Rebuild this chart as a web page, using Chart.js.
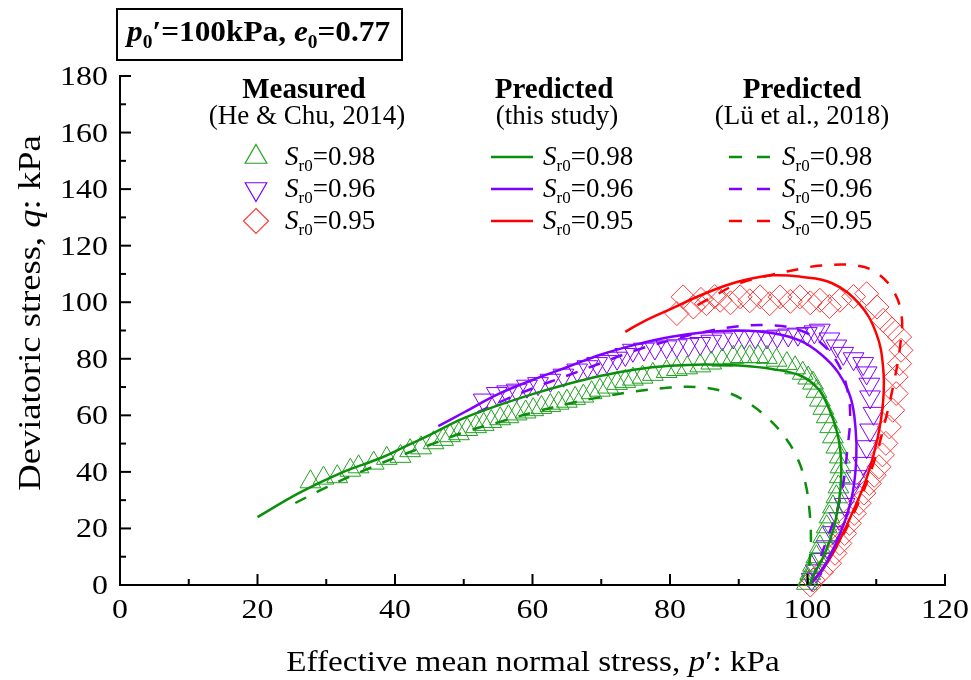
<!DOCTYPE html>
<html>
<head>
<meta charset="utf-8">
<script src="https://cdn.jsdelivr.net/npm/chart.js@4"></script>
<style>
  body { margin: 0; background: #fff; }
  #wrap { width: 971px; height: 680px; }
</style>
</head>
<body>
<div id="wrap"><canvas id="chart" width="971" height="680"></canvas></div>
<script>
// ---- 축 눈금 ----
const xTicks = [0, 20, 40, 60, 80, 100, 120];
const yTicks = [0, 20, 40, 60, 80, 100, 120, 140, 160, 180];

// ---- 측정값 (He & Chu, 2014) ----
const meas98P = [27.7, 29.6, 31.6, 33.5, 34.7, 36.9, 38.8, 40.8, 42.2, 43.8, 45.6, 47, 48, 49.3, 50.5, 51.8, 52.9, 54, 55.3, 56.5, 57.7, 59, 60.1, 61.3, 62.6, 63.8, 65, 66.2, 67.4, 68.6, 69.8, 71, 72.3, 73.5, 74.6, 76, 77.5, 79.5, 81, 82.5, 84.4, 86, 87.6, 89.2, 90.4, 91.6, 92.8, 94.1, 95.5, 97, 98.2, 99.3, 100.1, 100.8, 101.3, 101.8, 102.3, 102.8, 103.3, 103.7, 104.2, 104.7, 104.8, 104.7, 104.5, 104.2, 103.7, 103.2, 102.8, 102.3, 101.8, 101.3, 100.8, 100.4, 100.1, 99.9];
const meas98Q = [36.5, 37.8, 38.3, 40.6, 41.8, 43.1, 44.8, 45.5, 47.5, 48.5, 50.3, 51.5, 52.8, 53.5, 55, 56, 56.8, 57.8, 58.8, 59.5, 60.5, 61.2, 62, 62.8, 63.5, 64.3, 65, 66, 66.8, 68, 68.9, 70, 71.3, 72, 72.8, 73.5, 74.5, 75.5, 76.2, 76.8, 77.5, 78.5, 79.5, 80.5, 80.8, 80.7, 80.8, 80.5, 79.5, 78.3, 76.8, 74.9, 73.2, 71.4, 68.5, 65.4, 62.5, 59.5, 56, 52.4, 48.8, 45.3, 41.8, 38.3, 34.7, 31.2, 27.6, 24.1, 20.6, 17.1, 13.5, 10, 7, 4.1, 2, 0.6];

const meas96P = [52.9, 54.8, 56.3, 57.7, 59.2, 60.8, 62.6, 64.5, 66.5, 68, 69.4, 70.8, 72.3, 73.5, 74.6, 76.2, 77.8, 79.5, 81, 82.7, 84.4, 86, 87.6, 89.2, 90.8, 92.4, 94.1, 95.6, 97.2, 98.6, 99.9, 101, 101.8, 103.2, 104.2, 105.2, 106.7, 108.1, 108.6, 109, 109.1, 109.6, 109.1, 108.6, 108.1, 107.1, 106.2, 105.4, 104.6, 103.7, 102.8, 102, 101.2, 100.6];
const meas96Q = [65.4, 67.7, 68.3, 68.9, 70.3, 71.2, 72.4, 74.2, 76, 77.2, 78.3, 79, 80.2, 81.5, 83, 83.4, 83.8, 84.2, 84.6, 85, 85.4, 86.2, 87, 87.7, 87.7, 87.7, 87.7, 88, 88.4, 88.7, 88.9, 89.5, 90.1, 87, 84.5, 81.9, 80, 78.3, 75, 71, 66.5, 60.7, 54.8, 48.9, 43, 38.3, 33.6, 28.5, 23.5, 18.5, 13.5, 9, 5, 2];

const meas95P = [81, 81.9, 83.4, 84.5, 85.3, 86.5, 87.3, 88.8, 90.2, 91.6, 93.1, 94.5, 96, 97.5, 98.9, 100.4, 101.8, 103.2, 104.7, 106.7, 108.6, 110.1, 111, 112.3, 113.4, 113.6, 113.4, 112.9, 112.9, 112.4, 111.9, 111.4, 110.9, 110.4, 109.7, 109, 108.2, 107.5, 106.8, 106.1, 105.4, 104.7, 104, 103.2, 102, 100.8, 100.4];
const meas95Q = [96, 101.9, 98.3, 101, 99.5, 102, 100.7, 99.8, 101.9, 100.5, 101.9, 99.5, 101.9, 100.3, 101.9, 99.8, 100.7, 98.5, 100.7, 102, 103, 98.3, 93.6, 90.5, 87.7, 83, 78.3, 73.6, 67.7, 61.8, 55.9, 50.1, 46, 41.8, 38.8, 35.9, 32.5, 28.9, 25.3, 21.8, 18.2, 14.7, 11.2, 7.7, 4.5, 1.8, 0];

// ---- 예측값 (this study) ----
const pred98P = [20, 26, 32, 38, 41, 45, 50, 55, 60, 65, 70, 75, 80, 85, 90, 95, 99, 101.5, 103, 104.2, 104.8, 104.9, 104.6, 103.8, 102.5, 101, 100.3];
const pred98Q = [24, 32.5, 39.5, 45, 48.4, 53, 59, 63.5, 67.5, 71, 74, 76.2, 77.5, 78, 77.6, 76.3, 74, 69.5, 63, 55, 47, 38, 30, 20, 11, 4, 0];
const pred96P = [46.3, 50, 55, 60, 65, 70, 75, 80, 85, 90, 95, 99, 102, 104.5, 106.3, 107, 107.1, 106.6, 105.5, 104, 102.3, 100.3];
const pred96Q = [56.2, 61, 67.5, 72.5, 77, 81.5, 85, 87.7, 89.4, 90, 89, 86.3, 81.5, 75, 66, 55, 45, 33, 23, 14, 6, 0];
const pred95P = [73.5, 76, 80, 85, 90, 95, 99, 103.5, 107.5, 110, 111, 111, 110.2, 108.7, 106.7, 104.5, 102.5, 100.3];
const pred95Q = [89.5, 93, 97.5, 103, 107.3, 109.5, 109, 106.8, 99.5, 89, 77, 65, 52, 38.5, 26.5, 15, 6.5, 0];

// ---- 예측값 (Lü et al., 2018) ----
const lu98P = [25.5, 30, 35, 40, 45, 50, 55, 60, 65, 70, 75, 80, 84, 88, 91, 94, 96.5, 98.5, 99.7, 100.3, 100.5, 100.3, 100];
const lu98Q = [29, 34.5, 40, 45, 49.5, 54, 57.5, 61, 64, 66.5, 68.5, 69.8, 70, 68.3, 65, 59.5, 53, 45, 36, 26, 16, 8, 0];
const lu96P = [52, 56, 60, 65, 70, 75, 80, 85, 90, 95, 99, 102, 104.5, 105.8, 106.2, 105.8, 105.2, 104.2, 102.8, 101.4, 100.3];
const lu96Q = [61, 65.5, 69.5, 74, 78.5, 83, 86.5, 89.5, 91.5, 91.8, 90, 85.5, 78, 69, 59.5, 48, 36, 25.5, 16, 6.5, 0];
const lu95P = [84, 87, 90, 95, 99, 102, 107, 110, 112.5, 113.7, 113.5, 112.6, 111.3, 109.6, 107.4, 104.8, 102.4, 100.5];
const lu95Q = [99, 103, 106.6, 109.8, 111.8, 113, 113, 110.5, 104, 95, 85, 72, 58, 43, 29, 16, 6.5, 0];

const seriesLabels = ['0.98', '0.96', '0.95'];

const SERIF = "'Liberation Serif', 'Times New Roman', serif";
const GREEN_LINE = '#0b8f0b';
const GREEN_MARK = '#23a023';
const PURPLE = '#8000ff';
const RED = '#ff0000';
const RED_MARK = '#ff3b3b';

function pts(px, qy) {
    return px.map((p, i) => ({ x: p, y: qy[i] }));
}

function lineSet(px, qy, color, dashed) {
    return {
        data: pts(px, qy),
        showLine: true,
        borderColor: color,
        borderWidth: 2.5,
        borderDash: dashed ? [12, 12] : [],
        pointRadius: 0,
        tension: 0.4,
        fill: false,
        clip: false
    };
}

function markSet(px, qy, color, style, rot) {
    return {
        data: pts(px, qy),
        showLine: false,
        pointStyle: style,
        rotation: rot,
        pointRadius: 12,
        pointBorderColor: color,
        pointBackgroundColor: 'rgba(0,0,0,0)',
        pointBorderWidth: 1,
        clip: false
    };
}

/** ========== 텍스트 도우미 ========== */
function drawSr(ctx, x, y, val) {
    runText(ctx, [
        ['S', `italic 27px ${SERIF}`],
        ['r0', `17px ${SERIF}`, 6],
        ['=' + val, `27px ${SERIF}`]
    ], x, y, 1);
}

// parts: [text, font, dy] — 가로 비율 sx 로 늘려서 그림
function runText(ctx, parts, x, y, sx) {
    ctx.save();
    ctx.translate(x, y);
    ctx.scale(sx, 1);
    ctx.textAlign = 'left';
    ctx.textBaseline = 'alphabetic';
    let cx = 0;
    parts.forEach(([t, f, dy]) => {
        ctx.font = f;
        ctx.fillText(t, cx, dy || 0);
        cx += ctx.measureText(t).width;
    });
    ctx.restore();
    return cx * sx;
}

function measureRun(ctx, parts, sx) {
    let w = 0;
    parts.forEach(([t, f]) => { ctx.font = f; w += ctx.measureText(t).width; });
    return w * sx;
}

function drawMarker(ctx, style, x, y, r, color) {
    ctx.save();
    ctx.strokeStyle = color;
    ctx.lineWidth = 1.2;
    ctx.beginPath();
    if (style === 'up') {
        ctx.moveTo(x, y - r);
        ctx.lineTo(x + r * 0.866, y + r * 0.5);
        ctx.lineTo(x - r * 0.866, y + r * 0.5);
    } else if (style === 'down') {
        ctx.moveTo(x, y + r);
        ctx.lineTo(x + r * 0.866, y - r * 0.5);
        ctx.lineTo(x - r * 0.866, y - r * 0.5);
    } else {
        ctx.moveTo(x, y - r);
        ctx.lineTo(x + r, y);
        ctx.lineTo(x, y + r);
        ctx.lineTo(x - r, y);
    }
    ctx.closePath();
    ctx.stroke();
    ctx.restore();
}

const decorPlugin = {
    id: 'decor',
    afterDraw(chart) {
        const { ctx, scales: { x, y }, chartArea } = chart;
        ctx.save();

        // 안쪽 눈금
        ctx.strokeStyle = '#000';
        ctx.lineWidth = 2;
        for (let v = 0; v <= 120; v += 10) {
            const px = x.getPixelForValue(v);
            const len = v % 20 === 0 ? 11 : 6;
            ctx.beginPath();
            ctx.moveTo(px, chartArea.bottom);
            ctx.lineTo(px, chartArea.bottom - len);
            ctx.stroke();
        }
        for (let v = 0; v <= 180; v += 10) {
            const py = y.getPixelForValue(v);
            const len = v % 20 === 0 ? 11 : 6;
            ctx.beginPath();
            ctx.moveTo(chartArea.left, py);
            ctx.lineTo(chartArea.left + len, py);
            ctx.stroke();
        }

        ctx.fillStyle = '#000';

        // 눈금 라벨 (가로로 늘림)
        const TICK_SX = 1.14;
        const tickFont = `28px ${SERIF}`;
        xTicks.forEach(v => {
            const parts = [[String(v), tickFont]];
            const w = measureRun(ctx, parts, TICK_SX);
            runText(ctx, parts, x.getPixelForValue(v) - w / 2, chartArea.bottom + 33, TICK_SX);
        });
        yTicks.forEach(v => {
            const parts = [[String(v), tickFont]];
            const w = measureRun(ctx, parts, TICK_SX);
            runText(ctx, parts, 108 - w, y.getPixelForValue(v) + 9, TICK_SX);
        });

        // 제목 박스
        ctx.lineWidth = 2;
        ctx.strokeRect(117, 9, 285, 51);
        runText(ctx, [
            ['p', `italic bold 29px ${SERIF}`],
            ['0', `bold 18px ${SERIF}`, 7],
            ['\u2032=100kPa, ', `bold 29px ${SERIF}`],
            ['e', `italic bold 29px ${SERIF}`],
            ['0', `bold 18px ${SERIF}`, 7],
            ['=0.77', `bold 29px ${SERIF}`]
        ], 127, 41, 1.08);

        // 축 제목
        const xParts = [
            ['Effective mean normal stress, ', `29px ${SERIF}`],
            ['p', `italic 29px ${SERIF}`],
            ['\u2032: kPa', `29px ${SERIF}`]
        ];
        const xw = measureRun(ctx, xParts, 1.145);
        runText(ctx, xParts, 533 - xw / 2, 671, 1.145);

        const yParts = [
            ['Deviatoric stress, ', `31px ${SERIF}`],
            ['q', `italic 31px ${SERIF}`],
            [': kPa', `31px ${SERIF}`]
        ];
        const yw = measureRun(ctx, yParts, 1.18);
        ctx.save();
        ctx.translate(40, 313);
        ctx.rotate(-Math.PI / 2);
        runText(ctx, yParts, -yw / 2, 0, 1.18);
        ctx.restore();

        // 범례 머리글
        ctx.textAlign = 'center';
        ctx.textBaseline = 'alphabetic';
        ctx.font = `bold 29px ${SERIF}`;
        ctx.fillText('Measured', 304, 98);
        ctx.fillText('Predicted', 554, 98);
        ctx.fillText('Predicted', 802, 98);
        ctx.font = `27px ${SERIF}`;
        ctx.fillText('(He & Chu, 2014)', 307, 124);
        ctx.fillText('(this study)', 557, 124);
        ctx.fillText('(L\u00fc et al., 2018)', 802, 124);

        // 범례 항목
        const rowsY = [157, 189, 221];
        const lineCols = [GREEN_LINE, PURPLE, RED];
        const markCols = [GREEN_MARK, PURPLE, RED_MARK];
        const styles = ['up', 'down', 'diamond'];
        rowsY.forEach((ry, i) => {
            drawMarker(ctx, styles[i], 256, ry, 12.5, markCols[i]);
            drawSr(ctx, 285, ry + 8, seriesLabels[i]);

            ctx.strokeStyle = lineCols[i];
            ctx.lineWidth = 2.5;
            ctx.beginPath();
            ctx.moveTo(491, ry);
            ctx.lineTo(533, ry);
            ctx.stroke();
            drawSr(ctx, 543, ry + 8, seriesLabels[i]);

            ctx.beginPath();
            ctx.moveTo(729, ry);
            ctx.lineTo(742, ry);
            ctx.moveTo(757, ry);
            ctx.lineTo(770, ry);
            ctx.stroke();
            drawSr(ctx, 782, ry + 8, seriesLabels[i]);
        });

        ctx.restore();
    }
};

new Chart(document.getElementById('chart'), {
    type: 'scatter',
    data: {
        datasets: [
            lineSet(pred98P, pred98Q, GREEN_LINE, false),
            lineSet(pred96P, pred96Q, PURPLE, false),
            lineSet(pred95P, pred95Q, RED, false),
            lineSet(lu98P, lu98Q, GREEN_LINE, true),
            lineSet(lu96P, lu96Q, PURPLE, true),
            lineSet(lu95P, lu95Q, RED, true),
            markSet(meas98P, meas98Q, GREEN_MARK, 'triangle', 0),
            markSet(meas96P, meas96Q, PURPLE, 'triangle', 180),
            markSet(meas95P, meas95Q, RED_MARK, 'rectRot', 0)
        ]
    },
    options: {
        responsive: false,
        animation: false,
        events: [],
        layout: { padding: { top: 76, right: 26, bottom: 0, left: 0 } },
        plugins: {
            legend: { display: false },
            tooltip: { enabled: false }
        },
        scales: {
            x: {
                type: 'linear',
                min: 0,
                max: 120,
                afterBuildTicks: s => { s.ticks = xTicks.map(v => ({ value: v })); },
                afterFit: s => { s.height = 95; },
                grid: { display: false, drawTicks: false },
                border: { display: true, color: '#000', width: 2 },
                ticks: { display: false }
            },
            y: {
                type: 'linear',
                min: 0,
                max: 180,
                afterBuildTicks: s => { s.ticks = yTicks.map(v => ({ value: v })); },
                afterFit: s => { s.width = 120; },
                grid: { display: false, drawTicks: false },
                border: { display: true, color: '#000', width: 2 },
                ticks: { display: false }
            }
        }
    },
    plugins: [decorPlugin]
});
</script>
</body>
</html>
